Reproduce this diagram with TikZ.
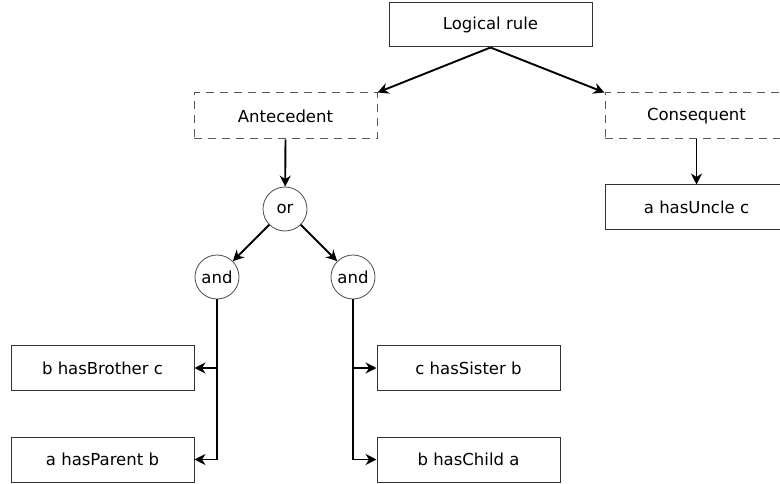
\documentclass[tikz,border=0pt]{standalone}
\usepackage{fontspec}
\setmainfont{DejaVu Sans}
\usepackage{tikz}
\usetikzlibrary{shapes.geometric, arrows.meta, positioning}

\begin{document}
\begin{tikzpicture}[x=1pt, y=-1pt]
    % Define styles
    \tikzstyle{rulebox} = [rectangle, draw=black!80, line width=1pt, minimum width=183pt, minimum height=45pt, align=center, font=\fontsize{16.5}{19}\selectfont]
    \tikzstyle{groupbox} = [rectangle, draw=black!65, line width=1pt, dash pattern=on 8pt off 6pt, minimum width=183pt, minimum height=46pt, align=center, font=\fontsize{16.5}{19}\selectfont]
    \tikzstyle{gate} = [circle, draw=black!70, line width=0.8pt, minimum size=44pt, inner sep=0pt, font=\fontsize{16.5}{19}\selectfont]
    \tikzstyle{arrow} = [-{Stealth[length=11pt, width=11pt]}, line width=1.9pt]

    \clip (0,0) rectangle (780,484);

    % Rule and its two parts
    \node[rulebox, minimum width=203pt, minimum height=44pt] (rule) at (490.5,25) {Logical rule};
    \node[groupbox] (ante) at (285.5,116) {Antecedent};
    \node[groupbox] (cons) at (696.5,116) {Consequent};

    % Operators
    \node[gate] (or) at (285,209) {or};
    \node[gate] (andL) at (217,277) {and};
    \node[gate] (andR) at (353,277) {and};

    % Atoms
    \node[rulebox] (brother) at (102.5,368) {b hasBrother c};
    \node[rulebox] (parent) at (102.5,459.5) {a hasParent b};
    \node[rulebox] (sister) at (468.5,368) {c hasSister b};
    \node[rulebox] (child) at (468.5,459.5) {b hasChild a};
    \node[rulebox] (uncle) at (696.5,207.5) {a hasUncle c};

    % Rule to parts
    \draw[arrow] (rule.south) -- (ante.north east);
    \draw[arrow] (rule.south) -- (cons.north west);

    % Antecedent tree
    \draw[arrow] (ante.south) -- (or);
    \draw[arrow] (or) -- (andL);
    \draw[arrow] (or) -- (andR);
    \draw[arrow] (andL.south) |- (parent.east);
    \draw[arrow] (andL.south |- brother.east) -- (brother.east);
    \draw[arrow] (andR.south) |- (child.west);
    \draw[arrow] (andR.south |- sister.west) -- (sister.west);

    % Consequent
    \draw[arrow] (cons.south) -- (uncle.north);
\end{tikzpicture}
\end{document}
